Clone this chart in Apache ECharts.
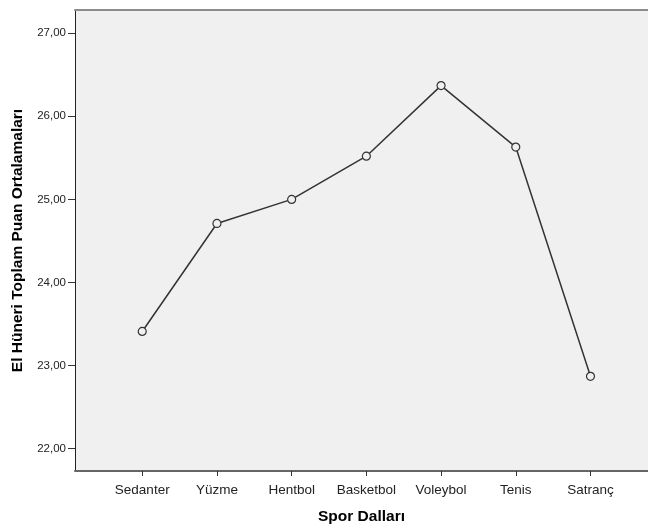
<!DOCTYPE html>
<html>
<head>
<meta charset="utf-8">
<script src="https://cdn.jsdelivr.net/npm/echarts@6/dist/echarts.min.js"></script>
<style>
    html, body { margin: 0; padding: 0; background: #fff; }
    #chart { width: 648px; height: 527px; }
</style>
</head>
<body>
<div id="chart"></div>
<script>
// kategoriler ve ortalamalar
var categories = ['Sedanter', 'Yüzme', 'Hentbol', 'Basketbol', 'Voleybol', 'Tenis', 'Satranç'];
var means = [23.41, 24.71, 25.00, 25.52, 26.37, 25.63, 22.87];
var yTicks = [22, 23, 24, 25, 26, 27];

var xTicks = categories.map(function (c, i) { return i; });
var points = means.map(function (v, i) { return [i, v]; });

var chart = echarts.init(document.getElementById('chart'));
chart.setOption({
    animation: false,
    textStyle: { fontFamily: 'Liberation Sans, Arial, sans-serif' },
    grid: {
        left: 75,
        right: 0,
        top: 10,
        bottom: 56,
        outerBoundsMode: 'none',
        show: true,
        backgroundColor: '#f0f0f0',
        borderWidth: 0
    },
    xAxis: [{
        type: 'value',
        min: -0.9,
        max: 6.77,
        name: 'Spor Dalları',
        nameLocation: 'middle',
        nameGap: 38,
        nameTextStyle: { fontWeight: 'bold', fontSize: 15.5, color: '#000' },
        axisLine: { onZero: false, lineStyle: { color: '#666', width: 2 } },
        axisTick: { customValues: xTicks, length: 5, lineStyle: { color: '#333' } },
        axisLabel: {
            customValues: xTicks,
            color: '#222',
            fontSize: 13.5,
            margin: 12,
            formatter: function (v) { return categories[Math.round(v)]; }
        },
        splitLine: { show: false }
    }, {
        // ust kenar cizgisi
        type: 'value',
        position: 'top',
        min: -0.9,
        max: 6.77,
        axisLine: { onZero: false, lineStyle: { color: '#8c8c8c', width: 2 } },
        axisTick: { show: false },
        axisLabel: { show: false },
        splitLine: { show: false }
    }],
    yAxis: {
        type: 'value',
        min: 21.73,
        max: 27.28,
        name: 'El Hüneri Toplam Puan Ortalamaları',
        nameLocation: 'middle',
        nameGap: 49,
        nameTextStyle: { fontWeight: 'bold', fontSize: 15.5, color: '#000' },
        axisLine: { show: true, onZero: false, lineStyle: { color: '#222' } },
        axisTick: { show: true, customValues: yTicks, length: 7, lineStyle: { color: '#333' } },
        axisLabel: {
            customValues: yTicks,
            color: '#222',
            fontSize: 11.5,
            margin: 9,
            formatter: function (v) { return v.toFixed(2).replace('.', ','); }
        },
        splitLine: { show: false }
    },
    series: [{
        type: 'line',
        data: points,
        symbol: 'circle',
        symbolSize: 8,
        lineStyle: { color: '#333', width: 1.5 },
        itemStyle: { color: '#f0f0f0', borderColor: '#333', borderWidth: 1.2 }
    }]
});
</script>
</body>
</html>
